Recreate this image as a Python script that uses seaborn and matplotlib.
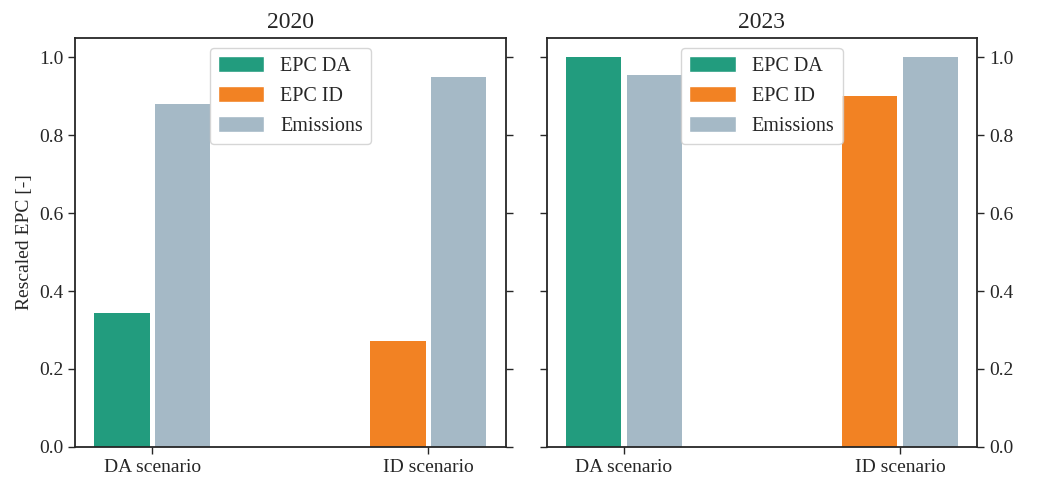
import matplotlib
matplotlib.use("Agg")
import matplotlib.pyplot as plt
from matplotlib.patches import Patch
import pandas as pd
import seaborn as sns

# Rescaled values per year: EPC of the scenario's own market and associated emissions
years = ["2020", "2023"]
scenarios = ["DA scenario", "ID scenario"]
epc_series = ["EPC DA", "EPC ID"]          # EPC series shown in each scenario
epc_2020 = [0.345, 0.273]
emis_2020 = [0.881, 0.949]
epc_2023 = [1.0, 0.902]
emis_2023 = [0.954, 1.0]

colors = {"EPC DA": "#229c7e", "EPC ID": "#f28223", "Emissions": "#a5b9c6"}

sns.set_theme(style="ticks")
plt.rcParams["font.family"] = ["Liberation Serif", "DejaVu Serif"]
plt.rcParams["mathtext.fontset"] = "stix"


def frame(epc, emis):
    rows = []
    for sc, ser, e, m in zip(scenarios, epc_series, epc, emis):
        rows.append({"scenario": sc, "measure": "EPC", "series": ser, "value": e})
        rows.append({"scenario": sc, "measure": "Emissions", "series": "Emissions", "value": m})
    return pd.DataFrame(rows)


fig, axes = plt.subplots(1, 2, figsize=(10.53, 4.8), dpi=100, sharey=True)
fig.subplots_adjust(left=0.0712, right=0.928, top=0.921, bottom=0.069, wspace=0.095)

for ax, year, epc, emis in zip(axes, years, [epc_2020, epc_2023], [emis_2020, emis_2023]):
    df = frame(epc, emis)
    sns.barplot(data=df, x="scenario", y="value", hue="measure",
                hue_order=["EPC", "Emissions"], order=scenarios,
                width=0.44, gap=0.09, legend=False, ax=ax, errorbar=None,
                saturation=1, linewidth=0)
    # colour the EPC bars by the market they belong to
    for bar, ser in zip(ax.containers[0], epc_series):
        bar.set_facecolor(colors[ser])
    for bar in ax.containers[1]:
        bar.set_facecolor(colors["Emissions"])
    ax.set_xlim(-0.28, 1.28)
    ax.set_ylim(0, 1.05)
    ax.set_xlabel("")
    ax.set_title(year, fontsize=17, pad=7)
    ax.tick_params(labelsize=14, length=5, width=1, color="#262626")
    for sp in ax.spines.values():
        sp.set_visible(True)
        sp.set_linewidth(1.3)
        sp.set_color("#262626")
    handles = [Patch(facecolor=colors[k], label=k) for k in ["EPC DA", "EPC ID", "Emissions"]]
    ax.legend(handles=handles, loc="upper center", fontsize=14.5,
              handlelength=2.3, handleheight=0.85, framealpha=0.8)

axes[0].set_ylabel("Rescaled EPC [-]", fontsize=14)
axes[0].tick_params(axis="y", right=True)
axes[0].set_yticks([0.0, 0.2, 0.4, 0.6, 0.8, 1.0])

axes[1].yaxis.tick_right()
axes[1].yaxis.set_label_position("right")
axes[1].tick_params(axis="y", left=True, right=True, labelleft=False, labelright=True)
axes[1].set_ylabel("Rescaled assoc. emissions [-]", fontsize=14)

fig.savefig("out.png", dpi=100)
